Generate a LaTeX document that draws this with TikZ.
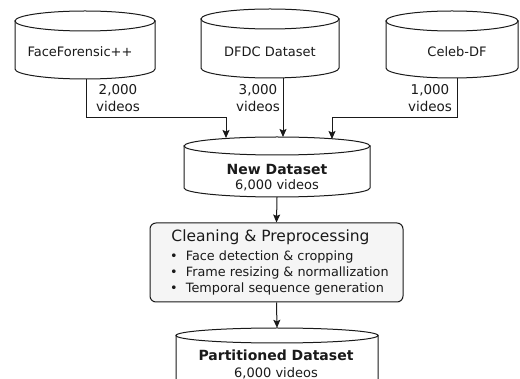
\documentclass[tikz,border=0pt]{standalone}
\usepackage{fontspec}
\setmainfont{DejaVu Sans}
\usetikzlibrary{arrows.meta}

\definecolor{ink}{HTML}{1A1A1A}
\definecolor{boxfill}{HTML}{F5F5F5}

\tikzset{
  cylline/.style={draw=ink, line width=1pt, fill=white},
  conn/.style={draw=ink, line width=1pt},
  arr/.style={conn, -{Stealth[length=8pt,width=7pt,inset=1.5pt]}},
  dbname/.style={inner sep=0pt, font=\fontsize{13}{16}\selectfont, text=ink},
  count/.style={inner sep=0pt, align=center, font=\fontsize{13.5}{17}\selectfont, text=ink},
  dbtitle/.style={inner sep=0pt, font=\fontsize{14}{16}\selectfont\bfseries, text=ink},
  procbox/.style={draw=ink, line width=1pt, rounded corners=6pt, fill=boxfill},
  bullet/.style={inner sep=0pt, anchor=west, font=\fontsize{12.8}{16}\selectfont, text=ink},
}

% database cylinder: name, centre x, top-ellipse y, bottom-ellipse y, half width, ellipse y radius
\newcommand{\dbcyl}[6]{%
  \path[cylline] (#2-#5,#3) -- (#2-#5,#4) arc[start angle=180,end angle=0,x radius=#5,y radius=#6] -- (#2+#5,#3) -- cycle;
  \draw[cylline] (#2,#3) ellipse[x radius=#5,y radius=#6];
  \node[inner sep=0pt, minimum width=2*#5, minimum height=#4-#3+2*#6] (#1) at (#2,{(#3+#4)/2}) {};
}

\begin{document}
\begin{tikzpicture}[x=1pt,y=-1pt]
  \useasboundingbox (0,0) rectangle (520,379);
  \clip (0,0) rectangle (520,379);
  \fill[white] (0,0) rectangle (520,379);

  % source datasets
  \dbcyl{ff}{85}{21}{69}{70}{10}
  \dbcyl{dfdc}{270}{19}{68}{69}{10}
  \dbcyl{celeb}{452}{21}{68}{66}{10}
  \node[dbname] (fft) at (80,52) {FaceForensic++};
  \node[dbname] (dfdct) at (270,52) {DFDC Dataset};
  \node[dbname] (celebt) at (457,52) {Celeb-DF};

  % merged dataset
  \dbcyl{nd}{277}{146}{188}{93}{9}
  \node[dbtitle] (ndt) at (277,169) {New Dataset};
  \node[count, font=\fontsize{13}{16}\selectfont] (ndc) at (277,185) {6,000 videos};

  % preprocessing stage
  \node[procbox, minimum width=253pt, minimum height=79pt] (clean) at (276.5,262.5) {};
  \node[inner sep=0pt, font=\fontsize{15.5}{18}\selectfont, text=ink] (cleant) at (270.5,237) {Cleaning \& Preprocessing};
  \node[bullet] (b1) at (170,257) {\textbullet\ \ Face detection \& cropping};
  \node[bullet] (b2) at (170,273) {\textbullet\ \ Frame resizing \& normallization};
  \node[bullet] (b3) at (170,289) {\textbullet\ \ Temporal sequence generation};

  % final dataset
  \dbcyl{pd}{277}{335.5}{400}{101}{7.5}
  \node[dbtitle] (pdt) at (276,355) {Partitioned Dataset};
  \node[count, font=\fontsize{13}{16}\selectfont] (pdc) at (276,373) {6,000 videos};

  % connectors
  \coordinate (ffout) at (86,79);
  \coordinate (dfout) at (283,78);
  \coordinate (ceout) at (457,78);
  \coordinate (j1) at (226,118);
  \coordinate (j3) at (332,118);
  \coordinate (nin1) at (226,138);
  \coordinate (nin2) at (283,137);
  \coordinate (nin3) at (332,139);
  \draw[arr] (ffout) |- (j1) -- (nin1);
  \draw[arr] (dfout) -- (nin2);
  \draw[arr] (ceout) |- (j3) -- (nin3);
  \node[count] (ffc) at (118,98) {2,000\\videos};
  \node[count] (dfc) at (258,98) {3,000\\videos};
  \node[count] (cec) at (430,98) {1,000\\videos};

  \draw[arr] (nd.south) -- (clean.north);
  \draw[arr] (clean.south) -- (pd.north);
\end{tikzpicture}
\end{document}
